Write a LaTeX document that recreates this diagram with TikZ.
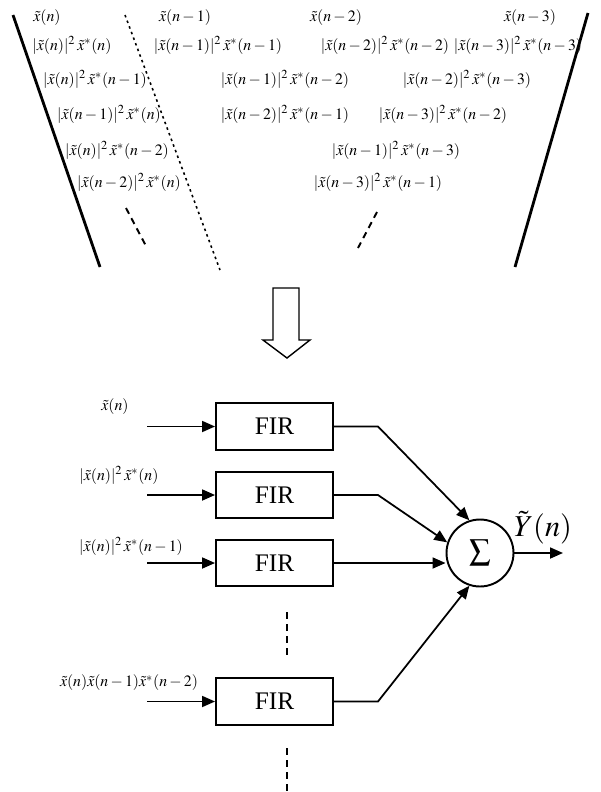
\documentclass[tikz,border=0pt]{standalone}
\usepackage{amsmath}
\usepackage{mathptmx}
\usepackage{fontspec}
\setmainfont{Liberation Serif}
\usetikzlibrary{arrows.meta,positioning,calc}

% |x(a)|^2 x*(b)
\newcommand{\xterm}[2]{$\lvert\tilde{x}(#1)\rvert^{2}\,\tilde{x}^{*}(#2)$}

\begin{document}
\begin{tikzpicture}[
    x=0.02cm, y=-0.02cm,
    term/.style={font=\small, inner sep=1pt},
    firbox/.style={rectangle, draw=black, line width=1.1pt, minimum width=2.34cm, minimum height=0.93cm, align=center, font=\Large},
    arrow/.style={-{Triangle[length=2.6mm,width=2.2mm]}, line width=1pt},
    border/.style={line width=1.6pt},
    dots/.style={line width=1.3pt, dash pattern=on 0.14cm off 0.1cm}
]
\useasboundingbox (0,0) rectangle (601,792);

% Window borders
\draw[border] (13,15) -- (100,267);
\draw[border] (588,13) -- (515,267);
\draw[line width=0.9pt, dash pattern=on 0.05cm off 0.07cm] (125,15) -- (220,270);
\draw[line width=1.1pt, dash pattern=on 0.13cm off 0.1cm] (126,208) -- (146,246);
\draw[line width=1.1pt, dash pattern=on 0.13cm off 0.1cm] (377,212) -- (358,248);

% Row 1
\node[term] (t11) at (47,18) {$\tilde{x}(n)$};
\node[term] (t12) at (185,18) {$\tilde{x}(n-1)$};
\node[term] (t13) at (336,18) {$\tilde{x}(n-2)$};
\node[term] (t14) at (530,18) {$\tilde{x}(n-3)$};

% Row 2
\node[term] (t21) at (72,45) {\xterm{n}{n}};
\node[term] (t22) at (218,45) {\xterm{n-1}{n-1}};
\node[term] (t23) at (385,45) {\xterm{n-2}{n-2}};
\node[term] (t24) at (518,45) {\xterm{n-3}{n-3}};

% Row 3
\node[term] (t31) at (95,79) {\xterm{n}{n-1}};
\node[term] (t32) at (285,79) {\xterm{n-1}{n-2}};
\node[term] (t33) at (467,79) {\xterm{n-2}{n-3}};

% Row 4
\node[term] (t41) at (109,114) {\xterm{n-1}{n}};
\node[term] (t42) at (285,114) {\xterm{n-2}{n-1}};
\node[term] (t43) at (443,114) {\xterm{n-3}{n-2}};

% Row 5
\node[term] (t51) at (117,150) {\xterm{n}{n-2}};
\node[term] (t52) at (396,150) {\xterm{n-1}{n-3}};

% Row 6
\node[term] (t61) at (129,182) {\xterm{n-2}{n}};
\node[term] (t62) at (378,182) {\xterm{n-3}{n-1}};

% Block arrow
\draw[thick] (273,288) -- (299,288) -- (299,340) -- (310,340) -- (287,358)
    -- (263,340) -- (273,340) -- cycle;

% FIR bank
\node[firbox] (fir1) at (274.5,426.5) {FIR};
\node[firbox] (fir2) at (274.5,495) {FIR};
\node[firbox] (fir3) at (274.5,563) {FIR};
\node[firbox] (fir4) at (274.5,701.5) {FIR};

% Inputs
\coordinate (in1) at (147,426.5);
\coordinate (in2) at (147,495);
\coordinate (in3) at (147,563);
\coordinate (in4) at (147,701.5);
\node[term] (lab1) at (115,407) {$\tilde{x}(n)$};
\node[term] (lab2) at (119,475) {\xterm{n}{n}};
\node[term] (lab3) at (131,546) {\xterm{n}{n-1}};
\node[term] (lab4) at (129,683) {$\tilde{x}(n)\tilde{x}(n-1)\tilde{x}^{*}(n-2)$};
\draw[arrow] (in1) -- (fir1);
\draw[arrow] (in2) -- (fir2);
\draw[arrow] (in3) -- (fir3);
\draw[arrow] (in4) -- (fir4);

% Summer
\node[circle, draw=black, line width=1.1pt, minimum size=1.34cm, inner sep=0pt] (sum) at (480,553) {\large$\displaystyle\sum$};
\coordinate (k1) at (378,426.5);
\coordinate (k2) at (378,495);
\coordinate (k4) at (378,701.5);
\draw[arrow] (fir1.east) -- (k1) -- (sum.108);
\draw[arrow] (fir2.east) -- (k2) -- (sum.162);
\draw[arrow] (fir3.east) -- (sum.west |- fir3.east);
\draw[arrow] (fir4.east) -- (k4) -- (sum.252);

% Output
\coordinate (out) at (563,553);
\draw[arrow] (sum) -- (out);
\node[font=\LARGE] (yout) at (543,528) {$\tilde{Y}(n)$};

% More branches
\draw[dots] (287,612) -- (287,655);
\draw[dots] (287,748) -- (287,792);

\end{tikzpicture}
\end{document}
